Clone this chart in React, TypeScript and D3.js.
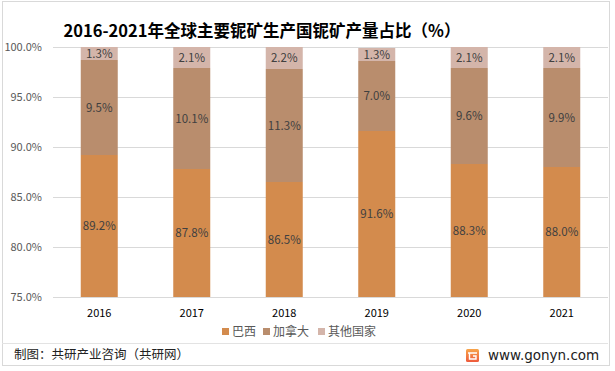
import React, { useEffect, useRef } from "react";
import * as d3 from "d3";

const years = ["2016", "2017", "2018", "2019", "2020", "2021"];
const brazil = [89.2, 87.8, 86.5, 91.6, 88.3, 88.0];
const canada = [9.5, 10.1, 11.3, 7.0, 9.6, 9.9];
const others = [1.3, 2.1, 2.2, 1.3, 2.1, 2.1];
const seriesNames = ["巴西", "加拿大", "其他国家"];
const yTicks = [75, 80, 85, 90, 95, 100];

const colors = ["#D38B4D", "#B98D6D", "#D4B5AA"];
const FONT = "'Noto Sans CJK SC', 'Noto Sans', sans-serif";

const App = () => {
  const ref = useRef<SVGSVGElement | null>(null);

  useEffect(() => {
    document.body.style.margin = "0";
    drawChart();
  }, []);

  const drawChart = () => {
    const width = 615,
      height = 371;

    const svg = d3.select(ref.current).html("");
    svg.attr("width", width).attr("height", height);

    svg.append("rect").attr("width", width).attr("height", height).attr("fill", "#fff");

    // frame
    svg.append("rect")
      .attr("x", 2.5).attr("y", 1.5).attr("width", 607).attr("height", 364)
      .attr("fill", "none").attr("stroke", "#d9d9d9");

    const x = d3.scaleBand().domain(years).range([53, 608]).paddingInner(0.6).paddingOuter(0.3);
    const y = d3.scaleLinear().domain([75, 100]).range([297, 47]);

    // title
    svg.append("text")
      .text("2016-2021年全球主要铌矿生产国铌矿产量占比（%）")
      .attr("x", 262).attr("y", 37)
      .attr("text-anchor", "middle")
      .style("font-family", FONT).style("font-weight", "bold").style("font-size", "16.5px")
      .attr("fill", "#000");

    // grid
    svg.append("g")
      .selectAll("line")
      .data(yTicks)
      .join("line")
      .attr("x1", 53).attr("x2", 608)
      .attr("y1", (d) => y(d) + 0.5).attr("y2", (d) => y(d) + 0.5)
      .attr("stroke", "#d9d9d9");

    svg.append("g")
      .selectAll("text")
      .data(yTicks)
      .join("text")
      .text((d) => d.toFixed(1) + "%")
      .attr("x", 42).attr("y", (d) => y(d) + 4)
      .attr("text-anchor", "end")
      .style("font-family", FONT).style("font-size", "11px")
      .attr("fill", "#595959");

    const table = years.map((yr, i) => ({ year: yr, b: brazil[i], c: canada[i], o: others[i] }));
    const stack = d3.stack<any>().keys(["b", "c", "o"]);
    const layers = stack(table);

    layers.forEach((layer, li) => {
      const g = svg.append("g");
      g.selectAll("rect")
        .data(layer)
        .join("rect")
        .attr("x", (d: any) => x(d.data.year)!)
        .attr("width", x.bandwidth())
        .attr("y", (d) => y(Math.min(d[1], 100)))
        .attr("height", (d) => y(Math.max(d[0], 75)) - y(Math.min(d[1], 100)))
        .attr("fill", colors[li]);

      g.selectAll("text")
        .data(layer)
        .join("text")
        .text((d: any) => (d[1] - d[0]).toFixed(1) + "%")
        .attr("x", (d: any) => x(d.data.year)! + x.bandwidth() / 2)
        .attr("y", (d) => (y(Math.max(d[0], 75)) + y(Math.min(d[1], 100))) / 2 + 4)
        .attr("text-anchor", "middle")
        .style("font-family", FONT).style("font-size", "11.5px")
        .attr("fill", "#404040");
    });

    // x labels
    svg.append("g")
      .selectAll("text")
      .data(years)
      .join("text")
      .text((d) => d)
      .attr("x", (d) => x(d)! + x.bandwidth() / 2)
      .attr("y", 317)
      .attr("text-anchor", "middle")
      .style("font-family", FONT).style("font-size", "11px")
      .attr("fill", "#000");

    // legend
    const legendX = [222, 263, 318];
    const lg = svg.append("g");
    seriesNames.forEach((name, i) => {
      lg.append("rect").attr("x", legendX[i]).attr("y", 328).attr("width", 7).attr("height", 7).attr("fill", colors[i]);
      lg.append("text")
        .text(name)
        .attr("x", legendX[i] + 10).attr("y", 336)
        .style("font-family", FONT).style("font-size", "12px")
        .attr("fill", "#595959");
    });

    // footer
    svg.append("line")
      .attr("x1", 2).attr("x2", 608).attr("y1", 343.5).attr("y2", 343.5)
      .attr("stroke", "#e3e3e3");

    svg.append("text")
      .text("制图：共研产业咨询（共研网）")
      .attr("x", 14).attr("y", 359)
      .style("font-family", FONT).style("font-size", "12.5px")
      .attr("fill", "#222");

    const defs = svg.append("defs");
    const grad = defs.append("linearGradient").attr("id", "logoGrad").attr("x1", 0).attr("y1", 0).attr("x2", 0).attr("y2", 1);
    grad.append("stop").attr("offset", "0%").attr("stop-color", "#F7A54A");
    grad.append("stop").attr("offset", "100%").attr("stop-color", "#EE5A3C");

    const logo = svg.append("g").attr("transform", "translate(466,349)");
    logo.append("rect").attr("width", 13).attr("height", 13).attr("rx", 1.5).attr("fill", "url(#logoGrad)");
    logo.append("path")
      .attr("d", "M2,4 H11 M3.5,4 V10 H10 V7 H7")
      .attr("stroke", "#fff").attr("stroke-width", 1.4).attr("fill", "none");

    svg.append("text")
      .text("www.gonyn.com")
      .attr("x", 488).attr("y", 360)
      .style("font-family", "'DejaVu Sans', sans-serif").style("font-size", "13.5px")
      .attr("fill", "#222");
  };

  return <svg ref={ref} style={{ display: "block" }}></svg>;
};

export default App;
